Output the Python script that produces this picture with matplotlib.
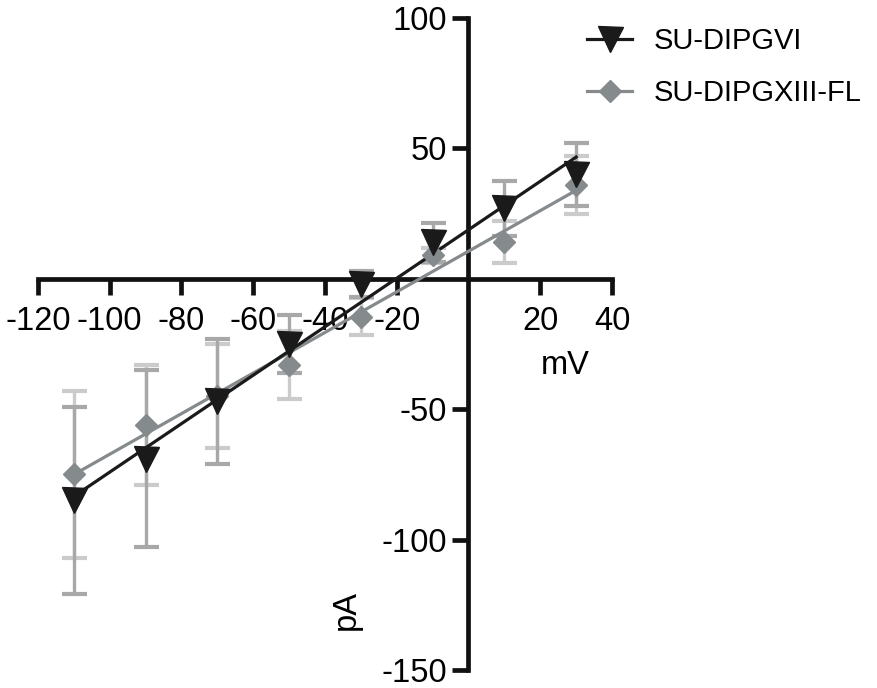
import numpy as np
import matplotlib
matplotlib.use("Agg")
import matplotlib.pyplot as plt

plt.rcParams['font.family'] = ['Liberation Sans', 'DejaVu Sans']

voltage = [-110, -90, -70, -50, -30, -10, 10, 30]
vi_mean = [-85, -69, -47, -25, -2, 14, 27, 40]
vi_sem = [36, 34, 24, 11, 5, 7.5, 10.5, 12]
xiii_mean = [-75, -56, -45, -33, -14.5, 9, 14, 36]
xiii_sem = [32, 23, 20, 13, 7, 3, 8, 11]
xticks = [-120, -100, -80, -60, -40, -20, 20, 40]
yticks = [-150, -100, -50, 50, 100]
series_names = ["SU-DIPGVI", "SU-DIPGXIII-FL"]

fig = plt.figure(figsize=(8.78, 6.88), dpi=100)
ax = fig.add_axes([38/878, 1-670/688, (612-38)/878, (670-18)/688])

c_black = '#1a1a1a'
c_gray = '#858a8d'
err_dark = '#a8a8a8'
err_light = '#cbcbcb'

x = np.array(voltage, float)
fs = 23.5

ax.errorbar(x, xiii_mean, yerr=xiii_sem, fmt='none', ecolor=err_light,
            elinewidth=2.4, capsize=9, capthick=3, zorder=2)
ax.errorbar(x, vi_mean, yerr=vi_sem, fmt='none', ecolor=err_dark,
            elinewidth=2.4, capsize=9, capthick=3, zorder=2)

for m, col, lw in [(xiii_mean, c_gray, 2.3), (vi_mean, c_black, 2.3)]:
    p = np.polyfit(x, np.array(m, float), 1)
    xf = np.array([x.min(), x.max()])
    ax.plot(xf, np.polyval(p, xf), color=col, lw=lw, zorder=3)

ax.plot(x, xiii_mean, linestyle='none', marker='D', markersize=11.5,
        color=c_gray, zorder=4)
ax.plot(x, vi_mean, linestyle='none', marker='v', markersize=18,
        color=c_black, zorder=5)

h1, = ax.plot([], [], color=c_black, lw=2.3, marker='v', markersize=18)
h2, = ax.plot([], [], color=c_gray, lw=2.3, marker='D', markersize=11.5)
leg = fig.legend([h1, h2], series_names, loc='upper left',
                 bbox_to_anchor=(587/878, 1-27/688), frameon=False,
                 fontsize=21, handlelength=1.55, handletextpad=0.72,
                 labelspacing=0.82, borderaxespad=0, borderpad=0)

ax.set_xlim(-120, 40)
ax.set_ylim(-150, 100)
ax.spines['left'].set_position(('data', 0))
ax.spines['bottom'].set_position(('data', 0))
ax.spines['right'].set_visible(False)
ax.spines['top'].set_visible(False)
for s in ['left', 'bottom']:
    ax.spines[s].set_linewidth(3.4)
    ax.spines[s].set_color('#111111')
ax.set_xticks(xticks)
ax.set_yticks(yticks)
ax.set_xticklabels([str(t) for t in xticks])
ax.set_yticklabels([str(t) for t in yticks])
ax.tick_params(axis='both', direction='out', length=11.5, width=3.4,
               color='#111111', labelsize=fs)
ax.tick_params(axis='x', pad=8)
ax.tick_params(axis='y', pad=4)
ax.patch.set_alpha(0)

fig.text(565/878, 1-365/688, 'mV', fontsize=fs, ha='center', va='center')
fig.text(346/878, 1-610/688, 'pA', fontsize=fs, ha='center', va='center',
         rotation=90)

fig.savefig('out.png', dpi=100)
